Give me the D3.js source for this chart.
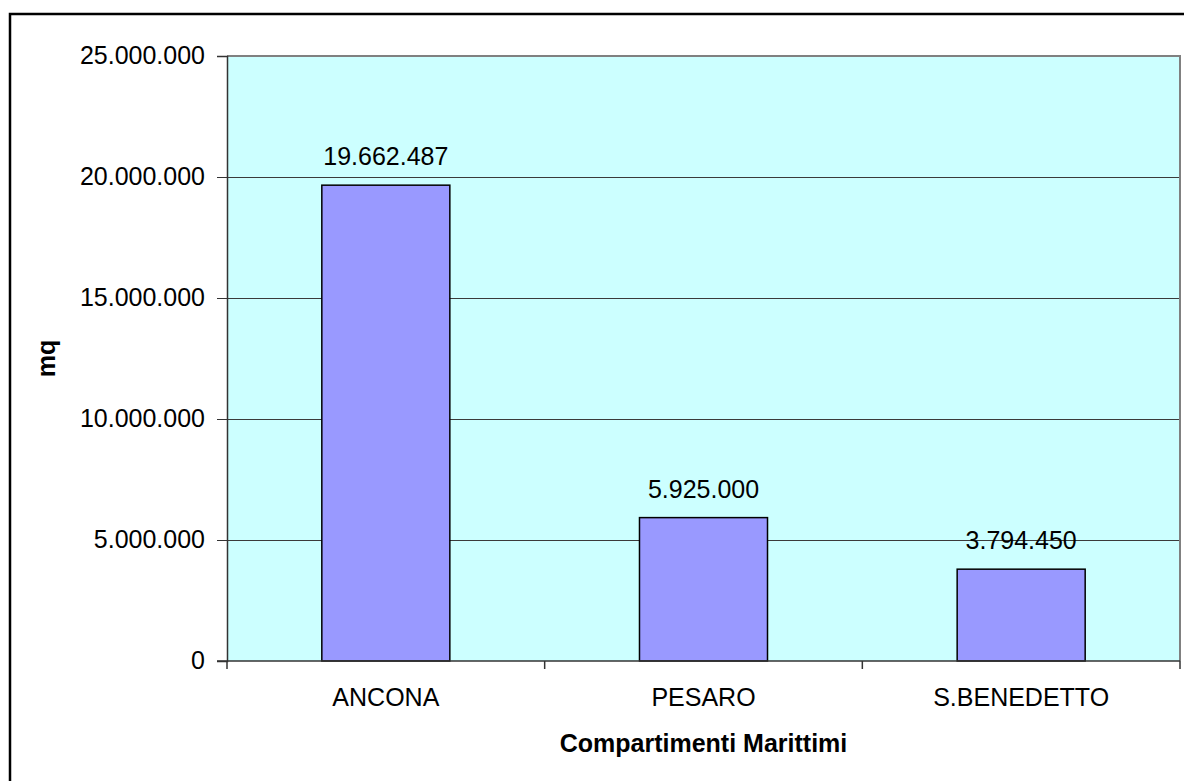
<!DOCTYPE html>
<html>
<head>
<meta charset="utf-8">
<script src="https://cdn.jsdelivr.net/npm/d3@7"></script>
<style>
  html, body { margin: 0; padding: 0; background: #fff; }
  svg { display: block; font-family: "Liberation Sans", Arial, sans-serif; }
</style>
</head>
<body>
<svg id="chart" width="1184" height="781"></svg>
<script>
const categories = ["ANCONA", "PESARO", "S.BENEDETTO"];
const values = [19662487, 5925000, 3794450];
const yTicks = [0, 5000000, 10000000, 15000000, 20000000, 25000000];
const yLabel = "mq";
const xLabel = "Compartimenti Marittimi";

const itLocale = d3.formatLocale({ decimal: ",", thousands: ".", grouping: [3], currency: ["€", ""] });
const fmt = itLocale.format(",d");

const svg = d3.select("#chart");
const plot = { left: 227, right: 1180, top: 56, bottom: 661 };

// outer frame (extends beyond the canvas right/bottom)
svg.append("rect")
  .attr("x", 10).attr("y", 14)
  .attr("width", 1200).attr("height", 800)
  .attr("fill", "#fff").attr("stroke", "#000").attr("stroke-width", 2.5);

const x = d3.scaleBand()
  .domain(categories)
  .range([plot.left, plot.right])
  .paddingInner(0.597)
  .paddingOuter(0.2985);

const y = d3.scaleLinear()
  .domain([0, 25000000])
  .range([plot.bottom, plot.top]);

// plot background
svg.append("rect")
  .attr("x", plot.left).attr("y", plot.top)
  .attr("width", plot.right - plot.left).attr("height", plot.bottom - plot.top)
  .attr("fill", "#CCFFFF");

// gridlines
svg.append("g").selectAll("line")
  .data(yTicks.filter(d => d > 0 && d < 25000000))
  .join("line")
  .attr("x1", plot.left).attr("x2", plot.right)
  .attr("y1", d => Math.round(y(d)) + 0.5).attr("y2", d => Math.round(y(d)) + 0.5)
  .attr("stroke", "#3a3a3a").attr("stroke-width", 1);

// plot border top/right (gray)
svg.append("path")
  .attr("d", `M${plot.left},${plot.top}H${plot.right}V${plot.bottom}`)
  .attr("fill", "none").attr("stroke", "#808080").attr("stroke-width", 2);

// bars
svg.append("g").selectAll("rect")
  .data(values)
  .join("rect")
  .attr("x", (d, i) => x(categories[i]))
  .attr("y", d => y(d))
  .attr("width", x.bandwidth())
  .attr("height", d => y(0) - y(d))
  .attr("fill", "#9999FF")
  .attr("stroke", "#000").attr("stroke-width", 1.5);

// data labels
svg.append("g").selectAll("text")
  .data(values)
  .join("text")
  .attr("x", (d, i) => x(categories[i]) + x.bandwidth() / 2)
  .attr("y", d => y(d) - 20)
  .attr("text-anchor", "middle")
  .attr("font-size", 25)
  .attr("fill", "#000")
  .text(d => fmt(d));

// y axis
const yAxis = d3.axisLeft(y).tickValues(yTicks).tickSize(10).tickPadding(12)
  .tickFormat(d => fmt(d));
const gy = svg.append("g").attr("transform", `translate(${plot.left},0)`).call(yAxis);
gy.select(".domain").attr("stroke", "#333").attr("stroke-width", 1.5);
gy.selectAll(".tick line").attr("stroke", "#333");
gy.selectAll(".tick text").attr("font-size", 25).attr("font-family", "Liberation Sans, Arial, sans-serif").attr("fill", "#000").attr("dy", "0.3em");

// x axis
const gx = svg.append("g").attr("transform", `translate(0,${plot.bottom})`);
gx.append("line")
  .attr("x1", plot.left - 10).attr("x2", plot.right)
  .attr("y1", 0).attr("y2", 0)
  .attr("stroke", "#333").attr("stroke-width", 1.5);
const boundaries = categories.map(c => x(c) - x.step() * x.paddingInner() / 2 - (c === categories[0] ? x.step() * (x.paddingOuter() - x.paddingInner() / 2) : 0));
boundaries.push(plot.right);
gx.selectAll(".xt").data(boundaries).join("line")
  .attr("class", "xt")
  .attr("x1", d => d).attr("x2", d => d)
  .attr("y1", 0).attr("y2", 8)
  .attr("stroke", "#333").attr("stroke-width", 1.5);
gx.selectAll(".xl").data(categories).join("text")
  .attr("class", "xl")
  .attr("x", d => x(d) + x.bandwidth() / 2)
  .attr("y", 45)
  .attr("text-anchor", "middle")
  .attr("font-size", 25)
  .attr("fill", "#000")
  .text(d => d);

// axis titles
svg.append("text")
  .attr("x", (plot.left + plot.right) / 2)
  .attr("y", 752)
  .attr("text-anchor", "middle")
  .attr("font-size", 25).attr("font-weight", "bold")
  .text(xLabel);

svg.append("text")
  .attr("transform", `translate(55,${(plot.top + plot.bottom) / 2}) rotate(-90)`)
  .attr("text-anchor", "middle")
  .attr("font-size", 25).attr("font-weight", "bold")
  .text(yLabel);
</script>
</body>
</html>
